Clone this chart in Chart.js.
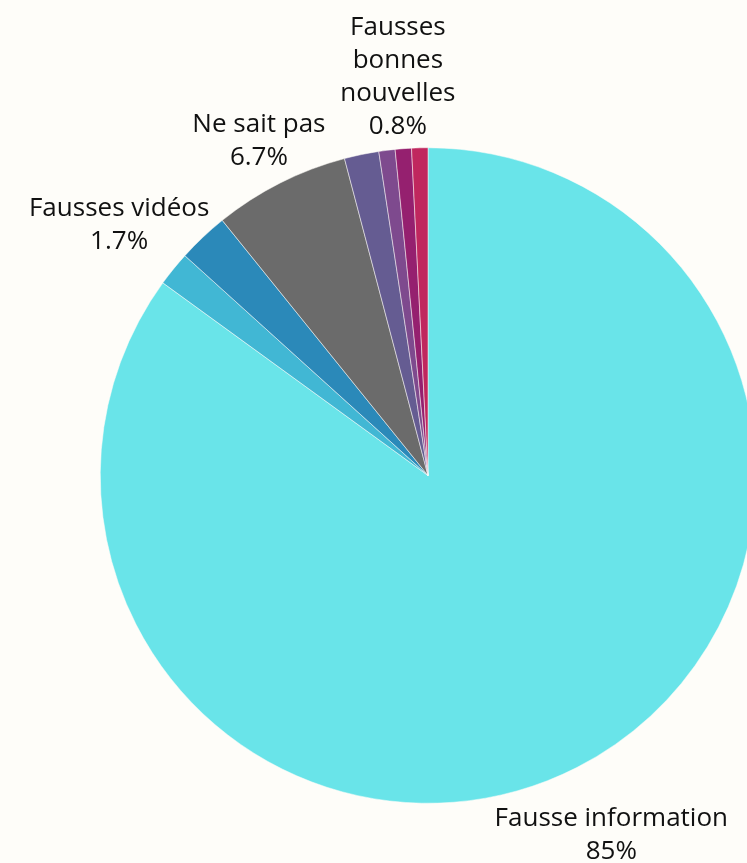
<!DOCTYPE html>
<html>
<head>
<meta charset="utf-8">
<script src="https://cdn.jsdelivr.net/npm/chart.js@4"></script>
<style>
    html, body { margin: 0; padding: 0; background: #fefdf9; overflow: hidden; }
    #wrap { width: 747px; height: 863px; overflow: hidden; position: relative; }
    canvas { display: block; }
</style>
</head>
<body>
<div id="wrap"><canvas id="pieChart" width="856" height="951"></canvas></div>
<script>
// Slices, clockwise from 12 o'clock
const categories = ['Fausse information', 'Fausses vidéos', '', 'Ne sait pas', '', '', 'Fausses bonnes nouvelles', ''];
const values = [85, 1.7, 2.5, 6.7, 1.7, 0.8, 0.8, 0.8];
const valueLabels = ['85%', '1.7%', '', '6.7%', '', '', '0.8%', ''];
const sliceColors = ['#69e4e9', '#41b7d4', '#2b89b9', '#6b6b6b', '#655c92', '#7e4a8e', '#95206f', '#c0275e'];

// which slices get an outside label, how the name wraps, and how far out it sits
const labelLines = {
    0: ['Fausse information'],
    1: ['Fausses vidéos'],
    3: ['Ne sait pas'],
    6: ['Fausses', 'bonnes', 'nouvelles']
};
const labelOffset = { 0: 76, 1: 70, 3: 47, 6: 72 };

const outsideLabels = {
    id: 'outsideLabels',
    afterDatasetsDraw(chart) {
        const ctx = chart.ctx;
        const meta = chart.getDatasetMeta(0);
        ctx.save();
        ctx.font = '26px "Open Sans", "Noto Sans", sans-serif';
        ctx.fillStyle = '#111111';
        ctx.textAlign = 'center';
        ctx.textBaseline = 'middle';
        const lineH = 33;
        meta.data.forEach((arc, i) => {
            if (!labelLines[i]) return;
            const { x, y, startAngle, endAngle, outerRadius } = arc.getProps(['x', 'y', 'startAngle', 'endAngle', 'outerRadius'], true);
            const mid = (startAngle + endAngle) / 2;
            const dist = outerRadius + labelOffset[i];
            const cx = x + Math.cos(mid) * dist;
            const cy = y + Math.sin(mid) * dist;
            const lines = labelLines[i].concat([valueLabels[i]]);
            const top = cy - (lines.length - 1) * lineH / 2;
            lines.forEach((t, k) => ctx.fillText(t, cx, top + k * lineH));
        });
        ctx.restore();
    }
};

new Chart(document.getElementById('pieChart'), {
    type: 'pie',
    data: {
        labels: categories,
        datasets: [{
            data: values,
            backgroundColor: sliceColors,
            borderColor: '#fefdf9',
            borderWidth: 0.5
        }]
    },
    options: {
        responsive: false,
        animation: false,
        layout: { padding: { left: 100, right: 100, top: 147.5, bottom: 147.5 } },
        plugins: {
            legend: { display: false },
            tooltip: { enabled: false }
        }
    },
    plugins: [outsideLabels]
});
</script>
</body>
</html>
